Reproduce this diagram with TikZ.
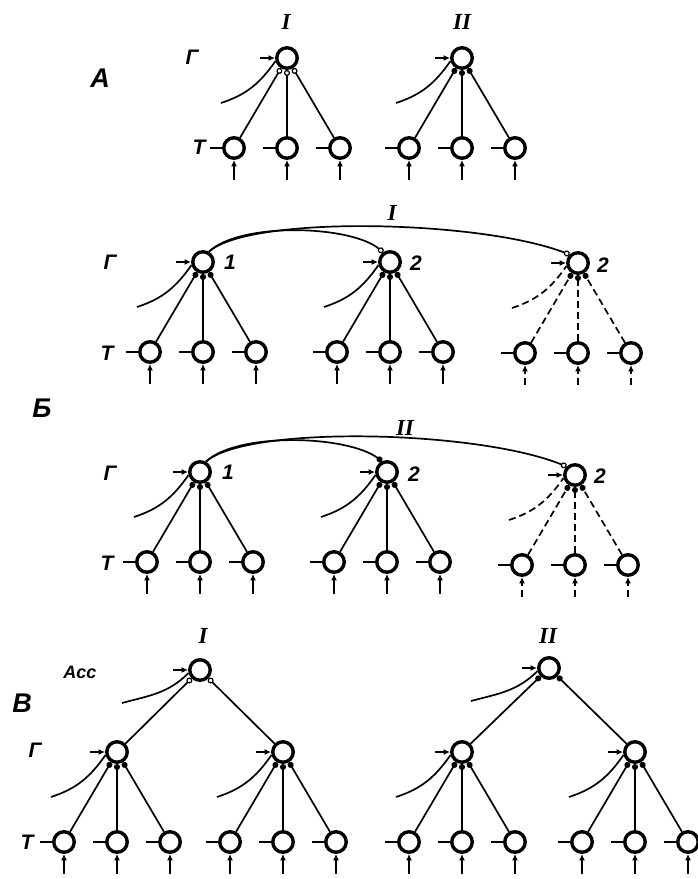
\documentclass[tikz,border=0pt]{standalone}
\usepackage{fontspec}
\setmainfont{Liberation Sans}
\newfontfamily\numfont{Liberation Serif}
\usetikzlibrary{arrows.meta, positioning, calc}

\begin{document}
\begin{tikzpicture}[x=1pt, y=1pt, line width=1.7pt,
  cell/.style={circle, draw, line width=3.4pt, minimum size=20.5pt, inner sep=0pt},
  wo/.style={-{Circle[open, length=6pt, line width=1.2pt]}},
  wf/.style={-{Circle[length=6pt]}},
  syn/.style={-{Latex[length=6.5pt, width=6pt]}},
  dashline/.style={dash pattern=on 7pt off 4pt},
  tag/.style={font=\fontsize{21}{21}\selectfont\bfseries\itshape},
  big/.style={font=\fontsize{27}{27}\selectfont\bfseries\itshape},
  roman/.style={font=\fontsize{23}{23}\selectfont\numfont\bfseries\itshape}
]
\useasboundingbox (0,0) rectangle (697,-879);

% section letters and row names
\node[big] (secA) at (100,-78) {А};
\node[big] (secB) at (42,-408) {Б};
\node[big] (secC) at (22,-703) {В};
\node[tag] (gA) at (192,-57) {Г};
\node[tag] (tA) at (199,-147) {Т};
\node[tag] (gBI) at (110,-262) {Г};
\node[tag] (tBI) at (107,-353) {Т};
\node[tag] (gBII) at (110,-473) {Г};
\node[tag] (tBII) at (107,-563) {Т};
\node[tag, font=\fontsize{18}{18}\selectfont\bfseries\itshape] (acc) at (80,-672) {Acc};
\node[tag] (gC) at (35,-750) {Г};
\node[tag] (tC) at (27,-842) {Т};

% Г units with their three Т cells
\foreach \g/\gx/\gy/\tip/\ls in {aI/287/58/wo/solid, aII/462/58/wf/solid,
    bIa/203/262/wf/solid, bIb/390/262/wf/solid, bIc/578/263/wf/dashline,
    bIIa/200/472/wf/solid, bIIb/387/472/wf/solid, bIIc/575/475/wf/dashline,
    cGa/117/752/wf/solid, cGb/283/752/wf/solid, cGc/462/752/wf/solid, cGd/635/752/wf/solid}
{
  \node[cell] (\g) at (\gx,-\gy) {};
  \coordinate[left=15pt of \g] (\g in);
  \coordinate (\g src) at (\gx-66,-\gy-45);
  \draw[syn] (\g in) -- (\g);
  \draw[\ls] (\g src) to[out=18, in=235] (\g.195);
  \foreach \k/\dx in {1/-53, 2/0, 3/53} {
    \node[cell] (\g t\k) at (\gx+\dx,-\gy-90) {};
    \coordinate[left=12pt of \g t\k] (\g t\k in);
    \coordinate[below=20pt of \g t\k] (\g t\k out);
    \draw[\ls, \tip] (\g t\k) -- (\g);
    \draw (\g t\k in) -- (\g t\k);
    \draw[\ls, syn] (\g t\k out) -- (\g t\k);
  }
}

% Acc cells
\foreach \a/\ax/\ay/\tip/\l/\r in {cAI/200/670/wo/cGa/cGb, cAII/549/668/wf/cGc/cGd}
{
  \node[cell] (\a) at (\ax,-\ay) {};
  \coordinate[left=15pt of \a] (\a in);
  \coordinate (\a src) at (\ax-78,-\ay-33);
  \draw[syn] (\a in) -- (\a);
  \draw (\a src) to[out=15, in=225] (\a.195);
  \draw[\tip] (\l) -- (\a);
  \draw[\tip] (\r) -- (\a);
}

% long links in Б
\draw[wo] (bIa.60) .. controls (240,-222) and (350,-225) .. (bIb.125);
\draw[wo] (bIa.60) .. controls (250,-215) and (480,-220) .. (bIc.135);
\draw[wf] (bIIa.60) .. controls (237,-432) and (347,-435) .. (bIIb.115);
\draw[wo] (bIIa.60) .. controls (247,-425) and (477,-430) .. (bIIc.135);

% numbers
\node[roman] (nAI) at (286,-22) {I};
\node[roman] (nAII) at (462,-22) {II};
\node[roman] (nBI) at (392,-213) {I};
\node[roman] (nBII) at (405,-428) {II};
\node[roman] (nCI) at (203,-636) {I};
\node[roman] (nCII) at (548,-636) {II};
\node[tag] (kBIa) at (230,-262) {1};
\node[tag] (kBIb) at (416,-263) {2};
\node[tag] (kBIc) at (603,-265) {2};
\node[tag] (kBIIa) at (228,-472) {1};
\node[tag] (kBIIb) at (414,-474) {2};
\node[tag] (kBIIc) at (600,-476) {2};
\end{tikzpicture}
\end{document}
